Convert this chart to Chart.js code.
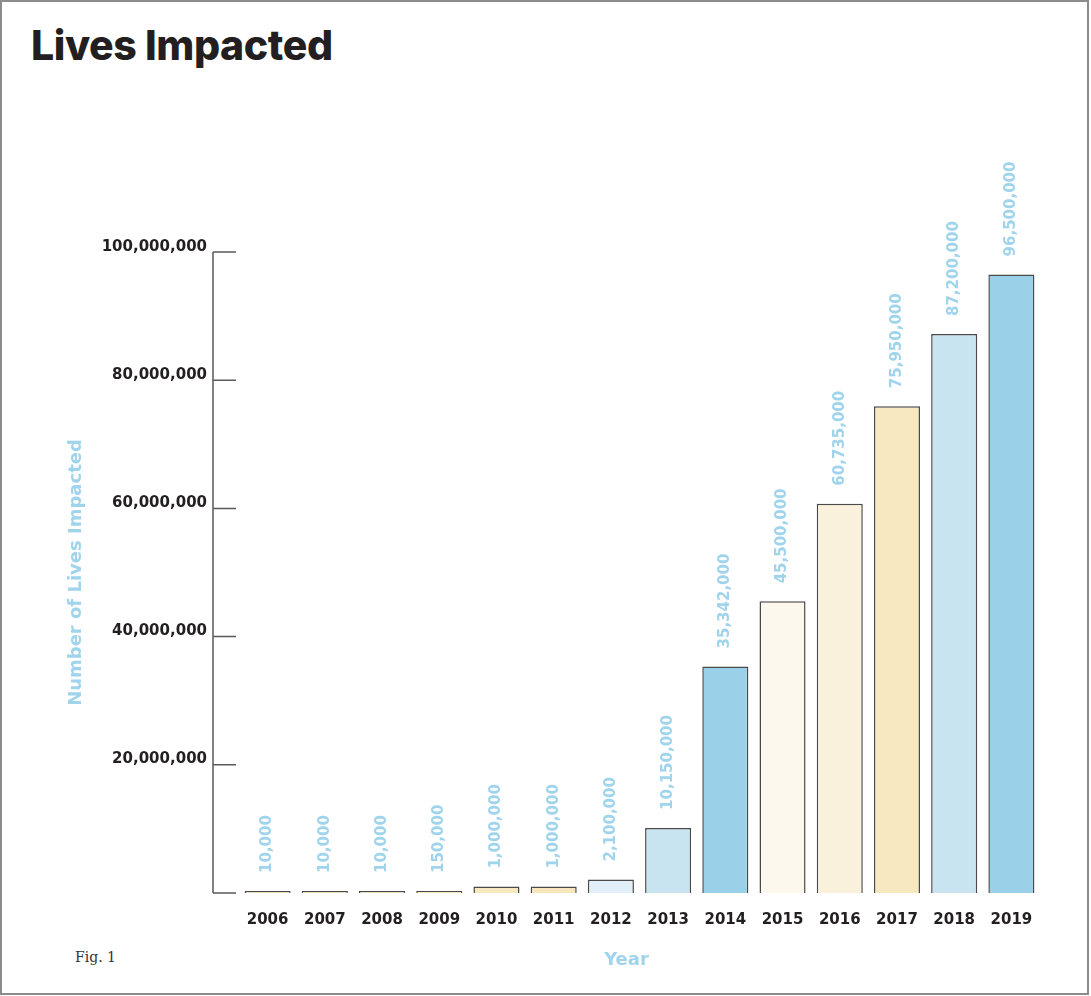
<!DOCTYPE html>
<html>
<head>
<meta charset="utf-8">
<script src="https://cdn.jsdelivr.net/npm/chart.js@4.4.1/dist/chart.umd.min.js"></script>
<style>
  html, body { margin: 0; padding: 0; background: #fff; }
  #frame { position: absolute; left: 0; top: 0; width: 1089px; height: 995px; border: 2px solid #8c8c8c; box-sizing: border-box; }
  #title { position: absolute; left: 31px; top: 20px; margin: 0; font: 800 41px Inter, sans-serif; color: #231f20; letter-spacing: -0.4px; }
  #fig { position: absolute; left: 75px; top: 949px; font: 14px "DejaVu Serif", serif; color: #333; }
  #wrap { position: absolute; left: 0; top: 0; width: 1091px; height: 996px; }
</style>
</head>
<body>
<div id="frame"></div>
<h1 id="title">Lives Impacted</h1>
<div id="fig">Fig. 1</div>
<div id="wrap"><canvas id="livesChart"></canvas></div>
<script>
document.addEventListener("DOMContentLoaded", () => {
    // Data
    const years = ["2006", "2007", "2008", "2009", "2010", "2011", "2012",
                   "2013", "2014", "2015", "2016", "2017", "2018", "2019"];
    const livesImpacted = [10000, 10000, 10000, 150000, 1000000, 1000000, 2100000,
                           10150000, 35342000, 45500000, 60735000, 75950000, 87200000, 96500000];
    const barColors = ["#e8dcc0", "#e8dcc0", "#e8dcc0", "#f5e6c0", "#f8e8c0", "#f7e6bb", "#e1f0f8",
                       "#c9e4f1", "#9bd1e8", "#fcf8ee", "#faf1dc", "#f7e8c0", "#c9e4f1", "#9bd1e8"];
    const yTicks = [0, 20000000, 40000000, 60000000, 80000000, 100000000];

    const labelBlue = "#9fd4ec";
    const ink = "#231f20";
    const fmt = (v) => v.toLocaleString("en-US");

    // Axis line + inward tick marks, sitting left of the bar area
    const axisPlugin = {
        id: "axisLine",
        afterDraw(chart) {
            const { ctx, chartArea, scales } = chart;
            const y = scales.y;
            const axisX = chartArea.left - 26;
            ctx.save();
            ctx.strokeStyle = "#5a5a5a";
            ctx.lineWidth = 1.5;
            ctx.beginPath();
            ctx.moveTo(axisX, y.getPixelForValue(100000000));
            ctx.lineTo(axisX, y.getPixelForValue(0));
            yTicks.forEach((t) => {
                const py = y.getPixelForValue(t);
                ctx.moveTo(axisX, py);
                ctx.lineTo(axisX + 23, py);
            });
            ctx.stroke();

            // x axis title, centred between the axis line and the last bar
            ctx.fillStyle = labelBlue;
            ctx.font = "bold 18px 'DejaVu Sans'";
            ctx.textAlign = "center";
            ctx.textBaseline = "middle";
            ctx.fillText("Year", (axisX + chartArea.right) / 2, 960);
            ctx.restore();
        }
    };

    // Rotated value labels above each bar
    const valueLabels = {
        id: "valueLabels",
        afterDatasetsDraw(chart) {
            const { ctx } = chart;
            const meta = chart.getDatasetMeta(0);
            ctx.save();
            ctx.fillStyle = labelBlue;
            ctx.font = "bold 15px 'DejaVu Sans'";
            ctx.textAlign = "left";
            ctx.textBaseline = "middle";
            meta.data.forEach((bar, i) => {
                ctx.save();
                ctx.translate(bar.x, bar.y - 18);
                ctx.rotate(-Math.PI / 2);
                ctx.fillText(fmt(livesImpacted[i]), 0, 0);
                ctx.restore();
            });
            ctx.restore();
        }
    };

    new Chart(document.getElementById("livesChart"), {
        type: "bar",
        data: {
            labels: years,
            datasets: [{
                data: livesImpacted,
                backgroundColor: barColors,
                borderColor: "#4a4a4a",
                borderWidth: 1.5,
                minBarLength: 2,
                categoryPercentage: 1,
                barPercentage: 0.805,
            }],
        },
        options: {
            responsive: true,
            maintainAspectRatio: false,
            animation: false,
            layout: { padding: { top: 252, left: 66, right: 51, bottom: 0 } },
            plugins: {
                legend: { display: false },
                tooltip: { enabled: false },
            },
            scales: {
                x: {
                    grid: { display: false, drawTicks: false },
                    border: { display: false },
                    ticks: {
                        color: ink,
                        padding: 18,
                        font: { family: "DejaVu Sans", weight: "bold", size: 15 },
                    },
                    afterFit: (scale) => { scale.height = 103; },
                },
                y: {
                    min: 0,
                    max: 100000000,
                    grid: { display: false, drawTicks: false },
                    border: { display: false },
                    afterBuildTicks: (scale) => { scale.ticks = yTicks.map((v) => ({ value: v })); },
                    ticks: {
                        color: ink,
                        padding: 32,
                        font: { family: "DejaVu Sans", weight: "bold", size: 15, lineHeight: 0.7 },
                        callback: (v) => (v === 0 ? "" : [fmt(v), ""]),
                    },
                    title: {
                        display: true,
                        text: "Number of Lives Impacted",
                        color: labelBlue,
                        padding: 0,
                        font: { family: "DejaVu Sans", weight: "bold", size: 18, lineHeight: 1.2 },
                    },
                    afterFit: (scale) => { scale.width = 173; },
                },
            },
        },
        plugins: [axisPlugin, valueLabels],
    });
});
</script>
</body>
</html>
